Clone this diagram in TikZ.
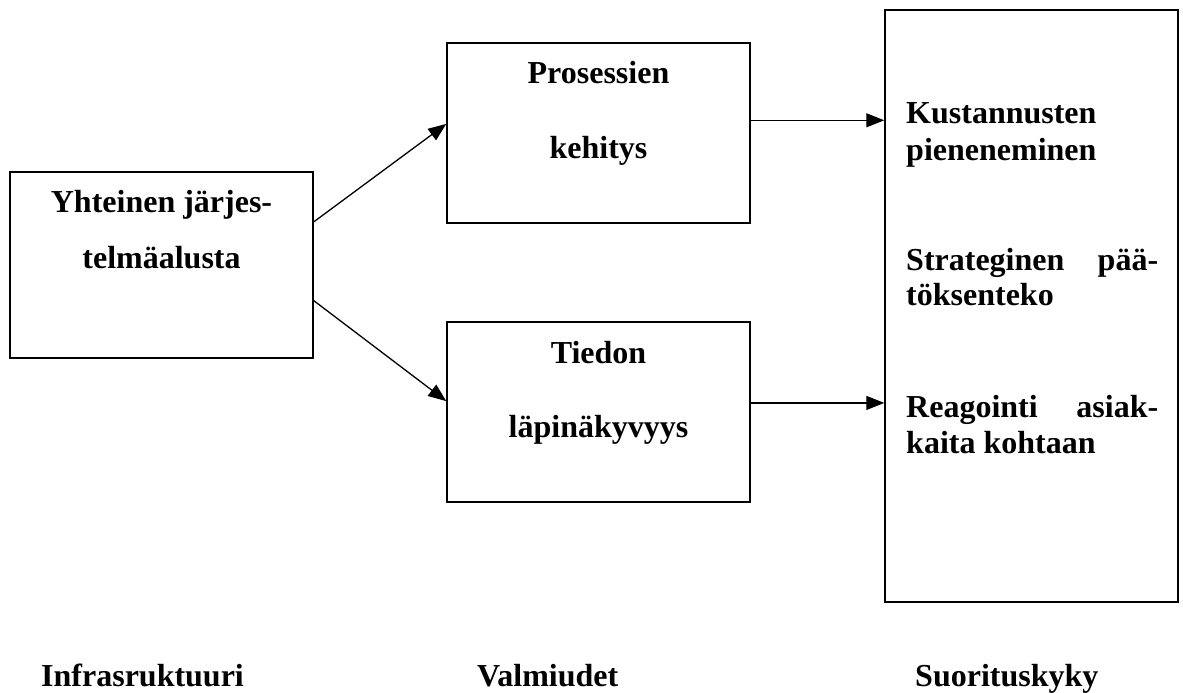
\documentclass[tikz,border=0pt]{standalone}
\usepackage{fontspec}
\setmainfont{Liberation Serif}
\usetikzlibrary{arrows.meta,calc}

\tikzset{
  box/.style={draw, line width=1.5pt, inner sep=0pt},
  txt/.style={inner sep=0pt, font=\fontsize{32}{38}\selectfont\bfseries},
  arr/.style={line width=1.3pt, -{Triangle[length=18pt,width=14pt]}}
}

\begin{document}
\begin{tikzpicture}[x=1pt,y=-1pt]
    \useasboundingbox (0,0) rectangle (1183,693);

    % boxes
    \node[box, minimum width=303pt, minimum height=186pt] (infra) at (161.5,265) {};
    \node[box, minimum width=303pt, minimum height=180pt] (kehitys) at (598.5,133) {};
    \node[box, minimum width=303pt, minimum height=180pt] (tieto) at (598.5,412) {};
    \node[box, minimum width=293pt, minimum height=592pt] (suoritus) at (1031.5,306) {};

    % box texts
    \node[txt, anchor=base] (y1) at (161.5,212) {Yhteinen järjes-};
    \node[txt, anchor=base] (y2) at (161.5,268) {telmäalusta};
    \node[txt, anchor=base] (p1) at (598.5,83) {Prosessien};
    \node[txt, anchor=base] (p2) at (598.5,158) {kehitys};
    \node[txt, anchor=base] (t1) at (598.5,363) {Tiedon};
    \node[txt, anchor=base] (t2) at (598.5,437) {läpinäkyvyys};

    \node[txt, anchor=base west] (k1) at (906,123) {Kustannusten};
    \node[txt, anchor=base west] (k2) at (906,160) {pieneneminen};
    \node[txt, anchor=base west] (s1) at (906,270) {\hbox to 252pt{Strateginen\hfill pää-}};
    \node[txt, anchor=base west] (s2) at (906,305) {töksenteko};
    \node[txt, anchor=base west] (r1) at (906,417) {\hbox to 252pt{Reagointi\hfill asiak-}};
    \node[txt, anchor=base west] (r2) at (906,453) {kaita kohtaan};

    % column labels
    \node[txt, anchor=base west] (lab1) at (41,686) {Infrasruktuuri};
    \node[txt, anchor=base west] (lab2) at (477,686) {Valmiudet};
    \node[txt, anchor=base west] (lab3) at (915,686) {Suorituskyky};

    % arrows
    \coordinate (i1) at ($(infra.north east)!0.27!(infra.south east)$);
    \coordinate (i2) at ($(infra.north east)!0.69!(infra.south east)$);
    \coordinate (e1) at ($(kehitys.north west)!0.45!(kehitys.south west)$);
    \coordinate (e2) at ($(tieto.north west)!0.44!(tieto.south west)$);
    \coordinate (o1) at ($(kehitys.north east)!0.43!(kehitys.south east)$);
    \coordinate (o2) at ($(tieto.north east)!0.45!(tieto.south east)$);

    \draw[arr] (i1) -- (e1);
    \draw[arr] (i2) -- (e2);
    \draw[arr] (o1) -- (o1 -| suoritus.west);
    \draw[arr] (o2) -- (o2 -| suoritus.west);
\end{tikzpicture}
\end{document}
